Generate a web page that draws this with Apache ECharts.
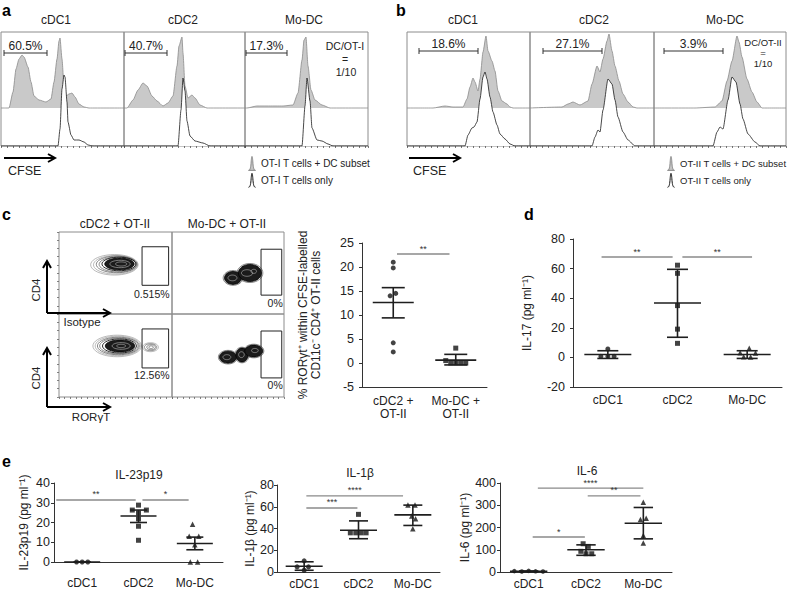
<!DOCTYPE html>
<html><head><meta charset="utf-8">
<script src="https://cdn.jsdelivr.net/npm/echarts@6/dist/echarts.min.js"></script>
<style>html,body{margin:0;padding:0;background:#fff}#c{width:788px;height:591px}</style>
</head><body><div id="c"></div>
<script>
// ================= DATA =================
// Panels a / b : CFSE histograms, [CFSE channel, events]
const aCats = ['cDC1', 'cDC2', 'Mo-DC'];
const aGrayCDC1 = [[0,0],[8,0],[12,16],[15,39],[18,49],[21,53],[23,51],[27,41],[30,26],[33,12],[38,8],[45,6],[50,9],[53,26],[56,49],[58,67],[59,70],[61,49],[63,22],[65,12],[68,14],[71,15],[74,11],[78,4],[83,1],[88,0],[123,0]];
const aOpenCDC1 = [[0,0],[57,0],[59,17],[61,57],[63,71],[64,69],[66,44],[67,24],[70,11],[73,6],[78,6],[83,4],[87,1],[92,0],[123,0]];
const aGrayCDC2 = [[0,0],[3,0],[9,8],[14,18],[19,25],[23,22],[28,12],[33,7],[39,2],[44,5],[49,12],[53,42],[55,62],[58,71],[59,55],[61,22],[64,10],[68,13],[71,10],[76,3],[83,0],[121,0]];
const aOpenCDC2 = [[0,0],[54,0],[57,36],[59,68],[61,55],[63,25],[66,10],[71,5],[79,3],[86,0],[121,0]];
const aGrayMoDC = [[0,0],[2,0],[12,2],[22,2],[38,2],[48,3],[53,15],[57,48],[59,68],[61,71],[63,42],[66,18],[70,8],[77,3],[85,0],[123,0]];
const aOpenMoDC = [[0,0],[57,0],[60,40],[62,68],[65,45],[67,18],[72,6],[77,5],[83,2],[88,0],[123,0]];
const aGates = [[3,46,55],[1,43,55],[1,42,55]];
const aGateLabels = ['60.5%', '40.7%', '17.3%'];

const bGrayCDC1 = [[0,0],[26,0],[38,2],[46,1],[56,1],[60,9],[63,21],[66,30],[68,26],[71,17],[73,29],[76,56],[79,72],[81,57],[85,47],[88,37],[91,17],[95,7],[100,4],[103,1],[106,0],[123,0]];
const bOpenCDC1 = [[0,0],[58,0],[61,11],[65,18],[67,19],[70,24],[73,47],[76,69],[78,74],[80,67],[83,49],[86,34],[90,21],[93,12],[98,7],[103,2],[108,0],[123,0]];
const bGrayCDC2 = [[0,0],[32,1],[38,4],[43,6],[50,3],[58,7],[62,24],[67,42],[70,36],[73,49],[77,67],[79,74],[82,57],[85,42],[89,27],[93,14],[98,6],[103,1],[107,0],[124,0]];
const bOpenCDC2 = [[0,0],[62,0],[65,9],[68,16],[70,14],[73,36],[78,67],[82,62],[85,46],[88,29],[93,14],[98,6],[105,0],[124,0]];
const bGrayMoDC = [[0,0],[41,0],[61,1],[68,7],[73,27],[78,47],[83,72],[85,66],[88,51],[93,29],[98,16],[103,6],[108,0],[132,0]];
const bOpenMoDC = [[0,0],[59,0],[63,14],[66,19],[69,17],[74,46],[78,69],[82,64],[86,42],[89,27],[94,12],[101,4],[106,0],[132,0]];
const bGates = [[12,71,57],[13,72,57],[10,69,57]];
const bGateLabels = ['18.6%', '27.1%', '3.9%'];

// Panel c : contour rings [RORγt, CD4, rx, ry, level]
const cContourCDC2Iso = [[49,60,21,12.5,0],[50,60,19.5,11.3,0],[51,60.5,18,10.2,1],[52,60.5,16.5,9.2,1],[53,61,15,8.3,2],[53.5,61,13,7.2,3],[54,61,9,4.5,4],[55,61,5,2.5,4]];
const cContourMoDCIso = [[54.5,44,8.8,9,1],[69.6,50,11.5,11.6,1],[54.5,44,7.6,7.9,3],[69.6,50,10.3,10.4,3],[54,44,4,3.5,4],[67,50,5,4,4],[73,52,2.5,2.5,4]];
const cContourCDC2Ror = [[51.5,61.5,21.5,13,0],[52,61.5,20,11.8,0],[52.5,61.5,18.5,10.6,1],[53,61.5,17,9.6,1],[53.5,61.5,15,8.5,2],[54,61.5,13,7.3,3],[55,61.5,8,4,4],[55,61.5,4,2,4],[81,60,7,5.4,0],[81,60,5.5,4.2,1],[81.5,60,3.8,3,1],[81.5,60,2,1.6,1]];
const cContourMoDCRor = [[50,48,8.6,8.2,1],[62.5,50.6,6.4,9.4,1],[73,55.4,9,8.2,1],[50,48,7.6,7.2,3],[62.5,50.6,5.4,8.4,3],[73,55.4,8,7.2,3],[49,48,3.5,3,4],[62,51,2.5,3.5,4],[74,56,3,2.5,4]];
const cGates = [[73.5,35,97,82,24.4],[79.5,23,98,79,13],[73.5,35,97,82,26.5],[79.5,23,98,79.5,14.5]];
const cGateLabels = ['0.515%', '0%', '12.56%', '0%'];

// Panel c (right) : % RORγt+ cells, [x jitter, value]
const cRorCats = ['cDC2 +\nOT-II', 'Mo-DC +\nOT-II'];
const cRorCDC2 = [[0,21],[0,19.8],[0.04,14.5],[-0.05,14],[0,4.2],[0,2.3]];
const cRorMoDC = [[0,3.1],[-0.16,0.5],[-0.08,0],[0,0],[0.08,0],[0.16,0]];
const cRorBars = [[0,12.6,9.4,15.7],[1,0.6,-0.4,1.8]];
const cRorSig = [[0.06,0.9,22.7]];
const cRorSigLabels = ['**'];

// Panel d : IL-17
const dCats = ['cDC1', 'cDC2', 'Mo-DC'];
const dIl17CDC1 = [[0,5.7],[-0.1,0.7],[0,0.7],[0.09,0.7]];
const dIl17CDC2 = [[0,62.3],[0,56.8],[0,35],[0,19.1],[0,9.5]];
const dIl17MoDC = [[0.03,6.1],[-0.1,3.2],[0.12,3],[-0.05,0.4],[0.05,0.3]];
const dIl17Bars = [[0,2.0,-0.7,4.5],[1,36.8,13.6,59.5],[2,2.0,-0.7,4.5]];
const dIl17Sig = [[-0.09,0.93,67.8],[1.07,2.07,67.8]];
const dIl17SigLabels = ['**', '**'];

// Panel e : IL-23p19, IL-1β, IL-6
const eCats = ['cDC1', 'cDC2', 'Mo-DC'];
const il23CDC1 = [[-0.1,0],[0,0],[0.1,0]];
const il23CDC2 = [[0,28.8],[-0.11,26.3],[0.14,26.3],[0,24.8],[0,21.8],[0,18.1],[0,11]];
const il23MoDC = [[-0.04,19.1],[-0.1,13.1],[0.07,13.1],[0,8.7],[-0.08,0],[0.05,0]];
const il23Bars = [[0,0,0,0],[1,23.3,20,26.3],[2,9.4,6.2,12.6]];
const il23Sig = [[-0.46,0.95,31.4],[1.07,1.89,31.4]];
const il23SigLabels = ['**', '*'];

const il1bCDC1 = [[0,10.3],[-0.13,4.7],[0.08,4.7],[0,1.6]];
const il1bCDC2 = [[0,53],[-0.15,36],[-0.05,36],[0.05,36],[0.14,36]];
const il1bMoDC = [[-0.09,61.5],[0.04,61.5],[-0.02,51.5],[0.05,49],[0,39.7]];
const il1bBars = [[0,5.3,1.6,9.4],[1,38.4,30.6,47],[2,52.5,42.8,61.5]];
const il1bSig = [[0.04,1.82,70],[0.04,0.98,58.9]];
const il1bSigLabels = ['****', '***'];

const il6CDC1 = [[-0.25,4],[-0.12,2],[0,5],[0.12,3],[0.25,2]];
const il6CDC2 = [[-0.05,127],[0.04,115],[-0.09,93],[0,82],[0.1,82]];
const il6MoDC = [[0,313],[-0.05,236],[0.05,242],[0,164],[0,130]];
const il6Bars = [[0,3,1.5,4.5],[1,100,75,122],[2,219,149,290]];
const il6Sig = [[0.16,2.0,377],[1.03,1.95,342],[0.07,0.98,157]];
const il6SigLabels = ['****', '**', '*'];

// ================= CHART =================
const FF = "'Liberation Sans', Arial, Helvetica, sans-serif";
const TXT = '#222';
const option = {animation: false, backgroundColor: '#fff', grid: [], xAxis: [], yAxis: [], series: [], graphic: [], legend: []};

function txt(align, valign, text, size, extra) {
  return Object.assign({text: text, font: size + 'px ' + FF, fill: TXT, align: align, verticalAlign: valign, textAlign: align, textVerticalAlign: valign}, extra || {});
}

// ---------- histogram sub panel ----------
function hist(left, width, gray, open, gate, gateLabel, names, labelSize) {
  const gi = option.grid.push({left: left, top: 32, width: width, height: 114, show: true, borderColor: '#8c8c8c', borderWidth: 1}) - 1;
  const xi = option.xAxis.push({gridIndex: gi, type: 'value', min: 0, max: width, interval: 6,
    axisLine: {show: false}, axisLabel: {show: false}, splitLine: {show: false},
    axisTick: {show: true, length: 2, lineStyle: {color: '#555', width: 0.8}}}) - 1;
  const yLow = option.yAxis.push({gridIndex: gi, type: 'value', min: 0, max: 114, show: false}) - 1;
  const yUp = option.yAxis.push({gridIndex: gi, type: 'value', min: -38, max: 76, show: false}) - 1;
  option.series.push({type: 'line', name: names[0], xAxisIndex: xi, yAxisIndex: yUp, data: gray, symbol: 'none',
    smooth: 0.2, smoothMonotone: 'x', lineStyle: {color: '#8a8a8a', width: 0.8}, areaStyle: {color: '#c9c9c9', opacity: 1},
    itemStyle: {color: '#c9c9c9'}, silent: true, z: 2});
  option.series.push({type: 'line', name: names[1], xAxisIndex: xi, yAxisIndex: yLow, data: open, symbol: 'none',
    smooth: 0.2, smoothMonotone: 'x', lineStyle: {color: '#1a1a1a', width: 0.8}, areaStyle: {color: '#ffffff', opacity: 1},
    itemStyle: {color: '#ffffff'}, silent: true, z: 3});
  option.series.push({type: 'custom', xAxisIndex: xi, yAxisIndex: yUp, data: [gate], silent: true, z: 5,
    renderItem: function (params, api) {
      const p1 = api.coord([api.value(0), api.value(2)]);
      const p2 = api.coord([api.value(1), api.value(2)]);
      const st = {stroke: '#333', lineWidth: 1};
      return {type: 'group', children: [
        {type: 'line', shape: {x1: p1[0], y1: p1[1], x2: p2[0], y2: p2[1]}, style: st},
        {type: 'line', shape: {x1: p1[0], y1: p1[1] - 3, x2: p1[0], y2: p1[1] + 3}, style: st},
        {type: 'line', shape: {x1: p2[0], y1: p2[1] - 3, x2: p2[0], y2: p2[1] + 3}, style: st},
        {type: 'text', x: (p1[0] + p2[0]) / 2, y: p1[1] - 1.5, style: txt('center', 'bottom', gateLabel, labelSize)}
      ]};
    }});
}
const aNames = ['OT-I T cells + DC subset', 'OT-I T cells only'];
const bNames = ['OT-II T cells + DC subset', 'OT-II T cells only'];
hist(1, 123, aGrayCDC1, aOpenCDC1, aGates[0], aGateLabels[0], aNames, 12);
hist(124, 121, aGrayCDC2, aOpenCDC2, aGates[1], aGateLabels[1], aNames, 12);
hist(245, 123, aGrayMoDC, aOpenMoDC, aGates[2], aGateLabels[2], aNames, 12);
hist(407, 123, bGrayCDC1, bOpenCDC1, bGates[0], bGateLabels[0], bNames, 12);
hist(530, 124, bGrayCDC2, bOpenCDC2, bGates[1], bGateLabels[1], bNames, 12);
hist(654, 132, bGrayMoDC, bOpenMoDC, bGates[2], bGateLabels[2], bNames, 12);

// ---------- contour sub panels ----------
const ringStyles = [
  {stroke: '#9c9c9c', fill: 'none', lineWidth: 0.7},
  {stroke: '#555', fill: 'none', lineWidth: 0.7},
  {stroke: '#111', fill: 'none', lineWidth: 0.9},
  {stroke: '#000', fill: '#1b1b1b', lineWidth: 0.8},
  {stroke: '#bdbdbd', fill: 'none', lineWidth: 0.6}
];
function contour(left, top, width, height, rings, gate, gateLabel, showLeft, showBottom) {
  const gi = option.grid.push({left: left, top: top, width: width, height: height, show: true, borderColor: '#8c8c8c', borderWidth: 1}) - 1;
  const xi = option.xAxis.push({gridIndex: gi, type: 'value', min: 0, max: 100, interval: 5,
    axisLine: {show: false}, axisLabel: {show: false}, splitLine: {show: false},
    axisTick: {show: showBottom, length: 2, lineStyle: {color: '#666', width: 0.8}}}) - 1;
  const yi = option.yAxis.push({gridIndex: gi, type: 'value', min: 0, max: 100, interval: 10,
    axisLine: {show: false}, axisLabel: {show: false}, splitLine: {show: false},
    axisTick: {show: showLeft, length: 2, lineStyle: {color: '#666', width: 0.8}}}) - 1;
  option.series.push({type: 'custom', xAxisIndex: xi, yAxisIndex: yi, data: rings, silent: true, z: 3,
    renderItem: function (params, api) {
      const c = api.coord([api.value(0), api.value(1)]);
      const s = api.size([api.value(2), api.value(3)]);
      const pts = [];
      for (let k = 0; k < 40; k++) {
        const t = k / 40 * 2 * Math.PI;
        pts.push([c[0] + s[0] * Math.cos(t), c[1] + s[1] * Math.sin(t)]);
      }
      return {type: 'polygon', shape: {points: pts}, style: Object.assign({}, ringStyles[api.value(4)])};
    }});
  option.series.push({type: 'custom', xAxisIndex: xi, yAxisIndex: yi, data: [gate], silent: true, z: 4,
    renderItem: function (params, api) {
      const a = api.coord([api.value(0), api.value(3)]);
      const b = api.coord([api.value(2), api.value(1)]);
      const l = api.coord([api.value(2), api.value(4)]);
      return {type: 'group', children: [
        {type: 'rect', shape: {x: a[0], y: a[1], width: b[0] - a[0], height: b[1] - a[1]}, style: {stroke: '#222', fill: 'none', lineWidth: 1}},
        {type: 'text', x: l[0] + 1, y: l[1], style: txt('right', 'middle', gateLabel, 10.5)}
      ]};
    }});
}
contour(59, 232, 113, 82, cContourCDC2Iso, cGates[0], cGateLabels[0], true, false);
contour(172, 232, 112, 82, cContourMoDCIso, cGates[1], cGateLabels[1], false, false);
contour(59, 314, 113, 83, cContourCDC2Ror, cGates[2], cGateLabels[2], true, true);
contour(172, 314, 112, 83, cContourMoDCRor, cGates[3], cGateLabels[3], false, true);

// ---------- dot plots with mean / error bars ----------
function dotPlot(o) {
  const gi = option.grid.push({left: o.left, top: o.top, width: o.width, height: o.height}) - 1;
  option.xAxis.push({gridIndex: gi, type: 'category', data: o.cats, boundaryGap: true,
    axisLine: {onZero: false, lineStyle: {color: '#333', width: 1}},
    axisTick: {alignWithLabel: true, length: 3, lineStyle: {color: '#333'}},
    axisLabel: {fontSize: 12, color: TXT, fontFamily: FF, margin: o.labelMargin, lineHeight: 13, interval: 0}});
  const xv = option.xAxis.push({gridIndex: gi, type: 'value', min: -0.5, max: o.cats.length - 0.5, show: false}) - 1;
  const yi = option.yAxis.push({gridIndex: gi, type: 'value', min: o.min, max: o.max, interval: o.interval,
    axisLine: {show: true, onZero: false, lineStyle: {color: '#333', width: 1}},
    axisTick: {show: true, length: 3, lineStyle: {color: '#333'}}, splitLine: {show: false},
    axisLabel: {fontSize: 12.5, color: TXT, fontFamily: FF, margin: o.yMargin},
    name: o.yName, nameLocation: 'middle', nameGap: o.nameGap, nameRotate: 90,
    nameTextStyle: {fontSize: 12, color: TXT, fontFamily: FF, lineHeight: 13}}) - 1;
  o.groups.forEach(function (pts, ci) {
    option.series.push({type: 'scatter', xAxisIndex: xv, yAxisIndex: yi, symbol: o.symbols[ci], symbolSize: o.sizes[ci],
      itemStyle: {color: '#141414'}, data: pts.map(function (p) { return [ci + p[0], p[1]]; }), silent: true, z: 3});
  });
  option.series.push({type: 'custom', xAxisIndex: xv, yAxisIndex: yi, data: o.bars, silent: true, z: 4,
    renderItem: function (params, api) {
      const m = api.coord([api.value(0), api.value(1)]);
      const lo = api.coord([api.value(0), api.value(2)]);
      const hi = api.coord([api.value(0), api.value(3)]);
      const st = {stroke: '#1e1e1e', lineWidth: 1.6};
      const h = o.meanHalf, w = o.whiskHalf;
      return {type: 'group', children: [
        {type: 'line', shape: {x1: m[0] - h, y1: m[1], x2: m[0] + h, y2: m[1]}, style: st},
        {type: 'line', shape: {x1: lo[0], y1: lo[1], x2: hi[0], y2: hi[1]}, style: st},
        {type: 'line', shape: {x1: lo[0] - w, y1: lo[1], x2: lo[0] + w, y2: lo[1]}, style: st},
        {type: 'line', shape: {x1: hi[0] - w, y1: hi[1], x2: hi[0] + w, y2: hi[1]}, style: st}
      ]};
    }});
  option.series.push({type: 'custom', xAxisIndex: xv, yAxisIndex: yi, data: o.sig, silent: true, z: 2,
    renderItem: function (params, api) {
      const a = api.coord([api.value(0), api.value(2)]);
      const b = api.coord([api.value(1), api.value(2)]);
      return {type: 'group', children: [
        {type: 'line', shape: {x1: a[0], y1: a[1], x2: b[0], y2: b[1]}, style: {stroke: '#8a8a8a', lineWidth: 1.4}},
        {type: 'text', x: (a[0] + b[0]) / 2, y: a[1] - 1, style: txt('center', 'bottom', o.sigLabels[params.dataIndex], 9, {fill: '#333'})}
      ]};
    }});
}

dotPlot({left: 362, top: 243, width: 125, height: 144, cats: cRorCats, min: -5, max: 25, interval: 5,
  yName: '% RORγt⁺ within CFSE-labelled\nCD11c⁻ CD4⁺ OT-II cells', nameGap: 40, labelMargin: 7, yMargin: 8,
  groups: [cRorCDC2, cRorMoDC], symbols: ['circle', 'rect'], sizes: [5, 5], bars: cRorBars,
  sig: cRorSig, sigLabels: cRorSigLabels, meanHalf: 20.5, whiskHalf: 11.5});

dotPlot({left: 573, top: 239, width: 209, height: 148, cats: dCats, min: -20, max: 80, interval: 20,
  yName: 'IL-17 (pg ml⁻¹)', nameGap: 40, labelMargin: 6, yMargin: 8,
  groups: [dIl17CDC1, dIl17CDC2, dIl17MoDC], symbols: ['circle', 'rect', 'triangle'], sizes: [5, 5, 5.5], bars: dIl17Bars,
  sig: dIl17Sig, sigLabels: dIl17SigLabels, meanHalf: 23.5, whiskHalf: 10.5});

dotPlot({left: 54, top: 483, width: 169, height: 79, cats: eCats, min: 0, max: 40, interval: 10,
  yName: 'IL-23p19 (pg ml⁻¹)', nameGap: 24, labelMargin: 14, yMargin: 4,
  groups: [il23CDC1, il23CDC2, il23MoDC], symbols: ['circle', 'rect', 'triangle'], sizes: [5, 5, 5.5], bars: il23Bars,
  sig: il23Sig, sigLabels: il23SigLabels, meanHalf: 18, whiskHalf: 8.5});

dotPlot({left: 277, top: 485, width: 163, height: 87, cats: eCats, min: 0, max: 80, interval: 20,
  yName: 'IL-1β (pg ml⁻¹)', nameGap: 12, labelMargin: 5, yMargin: 3,
  groups: [il1bCDC1, il1bCDC2, il1bMoDC], symbols: ['circle', 'rect', 'triangle'], sizes: [5, 5, 5.5], bars: il1bBars,
  sig: il1bSig, sigLabels: il1bSigLabels, meanHalf: 18.5, whiskHalf: 9.5});

dotPlot({left: 500, top: 483, width: 172, height: 89, cats: eCats, min: 0, max: 400, interval: 100,
  yName: 'IL-6 (pg ml⁻¹)', nameGap: 29, labelMargin: 5, yMargin: 4,
  groups: [il6CDC1, il6CDC2, il6MoDC], symbols: ['circle', 'rect', 'triangle'], sizes: [4.5, 5, 5.5], bars: il6Bars,
  sig: il6Sig, sigLabels: il6SigLabels, meanHalf: 18.7, whiskHalf: 9.7});

// ---------- legends (panels a, b) ----------
const peakPath = 'path://M0,20 C2,20 3,17 3.6,10 C4,4 4.5,0 5,0 C5.5,0 6,4 6.4,10 C7,17 8,20 10,20 Z';
const peakOpen = 'path://M0,20 C2,20 3,17 3.6,10 C4,4 4.5,0 5,0 C5.5,0 6,4 6.4,10 C7,17 8,20 10,20';
function legendFor(left, names, size) {
  return {left: left, top: 156, orient: 'vertical', itemWidth: 8, itemHeight: 14, itemGap: 2, selectedMode: false,
    textStyle: {fontSize: size, color: TXT, fontFamily: FF}, padding: 0,
    data: [
      {name: names[0], icon: peakPath, itemStyle: {color: '#c4c4c4', borderColor: '#777', borderWidth: 0.8}},
      {name: names[1], icon: peakOpen, itemStyle: {color: 'rgba(255,255,255,0)', borderColor: '#111', borderWidth: 1}}
    ]};
}
option.legend.push(legendFor(248, aNames, 10));
option.legend.push(legendFor(667, bNames, 9.5));

// ---------- annotations ----------
const G = option.graphic;
function gText(x, y, text, size, align, extra, rot) {
  G.push({type: 'text', x: x, y: y, rotation: rot || 0, silent: true, style: txt(align || 'center', 'middle', text, size, extra)});
}
function arrowH(x1, x2, y) {
  G.push({type: 'polyline', silent: true, shape: {points: [[x1, y], [x2, y]]}, style: {stroke: '#000', lineWidth: 2, fill: 'none'}});
  G.push({type: 'polyline', silent: true, shape: {points: [[x2 - 7, y - 4], [x2, y], [x2 - 7, y + 4]]}, style: {stroke: '#000', lineWidth: 2, fill: 'none'}});
}
function arrowV(x, y1, y2) {
  G.push({type: 'polyline', silent: true, shape: {points: [[x, y1], [x, y2]]}, style: {stroke: '#000', lineWidth: 2, fill: 'none'}});
  G.push({type: 'polyline', silent: true, shape: {points: [[x - 4, y2 + 7], [x, y2], [x + 4, y2 + 7]]}, style: {stroke: '#000', lineWidth: 2, fill: 'none'}});
}
const bold = {font: 'bold 16px ' + FF, fill: '#000'};
gText(2, 10, 'a', 16, 'left', bold);
gText(396, 10, 'b', 16, 'left', bold);
gText(2, 214, 'c', 16, 'left', bold);
gText(524, 214, 'd', 16, 'left', bold);
gText(2, 461, 'e', 16, 'left', bold);

gText(56, 20, aCats[0], 12); gText(183, 20, aCats[1], 12); gText(304, 20, aCats[2], 12);
gText(463, 20, aCats[0], 12); gText(594, 20, aCats[1], 12); gText(725, 20, aCats[2], 12);
gText(345, 46, 'DC/OT-I', 10.5); gText(345, 59, '=', 10.5); gText(346, 72, '1/10', 10.5);
gText(763, 42, 'DC/OT-II', 9.5); gText(763, 52.5, '=', 9.5); gText(763, 63, '1/10', 9.5);
arrowH(4, 55, 158); gText(8, 171, 'CFSE', 12.5, 'left');
arrowH(409, 460, 158); gText(413, 171, 'CFSE', 12.5, 'left');

gText(115, 224, 'cDC2 + OT-II', 12); gText(227, 224, 'Mo-DC + OT-II', 12);
arrowV(47, 313, 261); arrowH(47, 110, 313);
arrowV(47, 407, 348); arrowH(47, 110, 407);
gText(36, 290, 'CD4', 11.5, 'center', null, Math.PI / 2);
gText(36, 378, 'CD4', 11.5, 'center', null, Math.PI / 2);
gText(82, 322, 'Isotype', 11.5); gText(91, 417, 'RORγT', 11.5);

gText(139, 475, 'IL-23p19', 12); gText(360, 473, 'IL-1β', 12); gText(587, 471, 'IL-6', 12);

const chart = echarts.init(document.getElementById('c'), null, {renderer: 'svg', width: 788, height: 591});
chart.setOption(option);
</script></body></html>
